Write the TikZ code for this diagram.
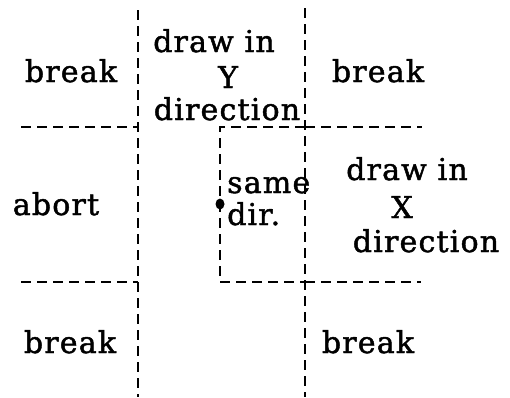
\documentclass[tikz,border=0pt]{standalone}
\usepackage{fontspec}
\usetikzlibrary{shapes.geometric}
\setmainfont{DejaVu Serif}[LetterSpace=4,FakeBold=1.5]
\begin{document}
\begin{tikzpicture}[x=1pt,y=-1pt,
  dline/.style={line width=2.9pt, dash pattern=on 10pt off 6pt},
  lbl/.style={anchor=base, inner sep=0pt, font=\fontsize{30}{34}\selectfont}]
\useasboundingbox (0,0) rectangle (510,397);
% coordinates
\coordinate (LT) at (138,10);
\coordinate (LB) at (138,397);
\coordinate (RT) at (305,8);
\coordinate (RB) at (305,397);
\coordinate (HTL) at (21,127);
\coordinate (HTLe) at (138,127);
\coordinate (HTR) at (305,127);
\coordinate (HTRe) at (422,127);
\coordinate (HBL) at (21,282);
\coordinate (HBLe) at (138,282);
\coordinate (HBR) at (305,282);
\coordinate (HBRe) at (421,282);
\coordinate (BTL) at (220,127);
\coordinate (BBL) at (220,282);
% lines
\draw[dline] (LT) -- (LB);
\draw[dline] (RT) -- (RB);
\draw[dline] (HTL) -- (HTLe);
\draw[dline] (HTR) -- (HTRe);
\draw[dline] (HBL) -- (HBLe);
\draw[dline] (HBR) -- (HBRe);
\draw[dline] (HTR) -- (BTL) -- (BBL) -- (HBR);
\node[ellipse, fill, inner sep=0pt, minimum width=9pt, minimum height=11pt] (dot) at (220,204) {};
% labels
\node[lbl] (b1) at (71,82) {break};
\node[lbl] (y1) at (214,52) {draw in};
\node[lbl] (y2) at (228,88) {Y};
\node[lbl] (y3) at (227,120) {direction};
\node[lbl] (b2) at (378,82) {break};
\node[lbl] (ab) at (56,215) {abort};
\node[lbl, anchor=base west] (s1) at (227,193) {same};
\node[lbl, anchor=base west] (s2) at (227,225) {dir.};
\node[lbl] (x1) at (407,180) {draw in};
\node[lbl] (x2) at (402,218) {X};
\node[lbl] (x3) at (426,252) {direction};
\node[lbl] (b3) at (70,353) {break};
\node[lbl] (b4) at (368,353) {break};
\end{tikzpicture}
\end{document}
